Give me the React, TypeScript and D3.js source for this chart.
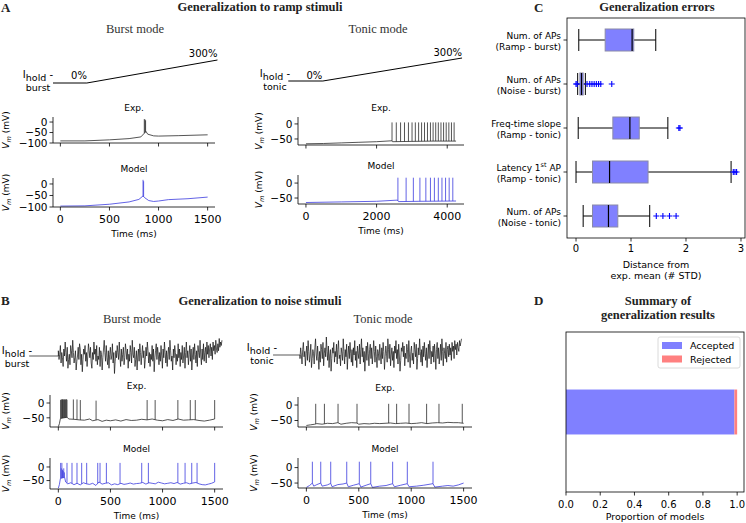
import React from 'react';
import * as d3 from 'd3';

const SANS = "'DejaVu Sans', sans-serif";
const SERIF = "'Liberation Serif', 'Times New Roman', serif";

// ---------- Panel A: ramp stimuli ----------
const rampBurstStim: [number, number][] = [[-75, 0], [270, 0], [1600, 300]];
const rampTonicStim: [number, number][] = [[-500, 0], [480, 0], [4420, 300]];

const rampBurstExpBase: [number, number][] = [
  [0, -90], [250, -90], [500, -85], [700, -79], [820, -71], [852, -55], [872, -45], [890, -58],
  [950, -66], [1000, -67], [1200, -65], [1500, -61],
];
const rampBurstExpSpikes: [number, number][] = [[855, 14], [862, 12], [868, 8]];

const rampBurstModelBase: [number, number][] = [
  [0, -96], [250, -95], [500, -88], [700, -78], [800, -67], [842, -52], [860, -60], [900, -72],
  [950, -76], [1000, -74], [1100, -68], [1300, -64], [1500, -57],
];
const rampBurstModelSpikes: [number, number][] = [[842, 18], [848, 12]];

const rampTonicExpBase: [number, number][] = [
  [0, -66], [500, -65], [1000, -63], [1500, -61], [2000, -59], [2430, -56], [2450, -59],
  [3000, -58], [3600, -57], [4250, -57],
];
const rampTonicExpSpikes = [
  2437, 2558, 2679, 2790, 2902, 3004, 3097, 3190, 3274, 3357, 3441, 3525, 3600, 3674, 3748,
  3823, 3897, 3971, 4046, 4120, 4195,
];
const rampTonicExpPeak = 5;

const rampTonicModelBase: [number, number][] = [
  [0, -65], [1000, -63], [2000, -61], [2590, -57], [2620, -62], [3200, -61], [4250, -60],
];
const rampTonicModelSpikes = [2604, 2836, 3041, 3227, 3395, 3525, 3637, 3748, 3851, 3953, 4055, 4158];
const rampTonicModelPeak = 18;

// ---------- Panel B: noise stimuli ----------
const noiseBurstStim = [
  0.3, -0.2, 0.1, 0.6, -0.4, 0.2, -0.1, -0.6, 0.4, 0.0, 0.8, 0.2, -0.3, 0.5, -0.7, -0.2, 0.1, -0.5, 0.6, 0.3,
  -0.1, 0.9, 0.2, -0.4, -0.1, 0.3, -0.8, -0.3, 0.0, 0.5, -0.2, 0.7, 0.4, -0.5, 0.1, -0.9, -0.2, 0.4, 0.1, 0.6,
  -0.3, 0.2, -0.6, 0.0, 0.7, 0.3, -0.1, 0.5, -0.4, -0.7, 0.2, -0.2, 0.8, 0.1, 0.4, -0.3, 0.6, -0.5, 0.0, -0.2,
  0.5, -0.6, 0.3, 0.1, -0.8, -0.1, 0.4, 0.9, 0.2, -0.3, 0.6, -0.1, -0.5, 0.3, -0.7, 0.1, 0.5, -0.2, 0.0, 0.7,
  -0.4, 0.2, -1.0, -0.3, 0.3, -0.1, 0.6, 0.2, -0.2, 0.8, 0.0, -0.6, 0.4, -0.3, 0.1, 0.5, -0.5, -0.1, 0.7, 0.3,
  -0.2, 0.4, -0.7, 0.1, -0.3, 0.6, 0.2, -0.4, 0.9, 0.1, -0.1, 0.5, -0.6, -0.2, 0.3, -0.8, 0.0, 0.4, -0.3, 0.7,
  0.2, -0.5, 0.1, 0.6, -0.1, 0.3, -0.7, -0.2, 0.5, 0.0, 0.8, 0.3, -0.4, 0.2, -0.6, 0.1, -0.2, 0.6, -0.3, 0.4,
  -0.9, -0.1, 0.3, 0.7, -0.2, 0.5, 0.1, -0.5, 0.2, -0.3, 0.6, 0.0, -0.7, 0.4, -0.1, 0.8, 0.2, -0.4, 0.3, -0.6,
  0.1, 0.5, -0.2, 0.9, 0.3, -0.3, 0.0, -0.8, 0.4, -0.1, 0.6, 0.2, -0.5, 0.1, -0.3, 0.7, -0.1, 0.4, -0.6, 0.2,
  -0.2, 0.6, -0.4, 0.0, 0.5, -0.7, 0.2, 0.8, -0.1, 0.3, -0.5, 0.1, 0.6, -0.3, 0.4, -0.8, 0.0, 0.5, -0.2, 0.7,
  0.1, -0.4, 0.3, -0.6, 0.6, 0.2, -0.1, 0.9, 0.0, -0.5, 0.4, -0.2, 0.7, -0.3, 0.2, 0.5, -0.4, 0.8, 0.1, 0.6,
  -0.1, 0.4, 0.7, 0.0, 0.5, -0.2, 0.8, 0.3, 0.6, 0.1, 0.9, 0.4, 0.2, 0.7, 0.3, 1.0, 0.5, 0.8, 0.6, 0.9,
];
const noiseTonicStim = [
  -0.2, 0.4, 0.0, -0.5, 0.3, 0.7, -0.1, 0.2, -0.6, 0.1, 0.5, -0.3, 0.8, 0.2, -0.4, 0.0, 0.6, -0.7, -0.2, 0.3,
  0.1, -0.5, 0.4, 0.9, 0.0, -0.3, 0.5, -0.1, -0.8, 0.2, -0.4, 0.6, 0.3, -0.2, 0.7, -0.6, 0.1, 0.4, -0.1, 1.0,
  0.2, -0.3, 0.5, -0.7, 0.0, 0.3, -0.9, -0.2, 0.4, 0.1, 0.7, -0.4, 0.2, -0.1, 0.6, -0.5, 0.3, 0.8, -0.2, 0.0,
  -0.6, 0.4, 0.1, -0.3, 0.9, 0.2, -0.5, 0.3, -0.1, 0.6, -0.8, 0.0, 0.5, -0.2, 0.7, 0.1, -0.4, 0.3, -0.6, 0.4,
  0.0, 0.8, -0.3, 0.2, -0.7, 0.5, 0.1, -0.2, 0.6, -0.5, 0.3, 0.9, -0.1, 0.4, -0.4, 0.2, -0.9, 0.0, 0.5, -0.3,
  0.7, 0.1, -0.6, 0.3, 0.6, -0.2, 0.4, -0.5, 0.0, 0.8, 0.2, -0.4, 0.5, -0.1, -0.7, 0.3, 0.1, -0.3, 0.6, 0.0,
  -0.5, 0.4, -0.2, 0.7, 0.2, -0.8, -0.1, 0.5, 0.1, -0.4, 0.9, 0.3, -0.2, 0.6, -0.6, 0.0, 0.4, -0.3, 0.2, -0.7,
  0.5, 0.1, 0.8, -0.2, 0.3, -0.5, 0.6, 0.0, -0.9, -0.3, 0.4, 0.2, 0.7, -0.1, 0.5, -0.6, 0.1, -0.2, 0.6, 0.3,
  -0.4, 0.8, 0.0, -0.7, 0.2, 0.5, -0.3, 0.1, -0.5, 0.7, 0.3, -0.1, 0.6, -0.8, -0.2, 0.4, 0.0, 0.9, 0.2, -0.4,
  0.3, -0.6, 0.5, -0.1, 0.7, 0.1, -0.3, 0.4, -0.7, 0.0, 0.6, -0.2, 0.8, 0.3, -0.5, 0.2, -0.1, 0.5, -0.4, 0.6,
  0.1, -0.8, 0.3, 0.7, -0.2, 0.4, -0.5, 0.0, 0.6, -0.3, 0.9, 0.2, -0.6, 0.4, 0.1, -0.2, 0.7, -0.4, 0.3, 0.5,
  -0.1, 0.6, 0.0, 0.4, -0.3, 0.7, 0.2, 0.5, -0.2, 0.8, 0.3, 0.6, 0.0, 0.7, 0.4, 0.2, 0.8, 0.5, 0.7, 0.9,
];

const noiseBurstExpBase: [number, number][] = [
  [0, -80], [10, -70], [20, -52], [85, -48], [100, -54], [150, -55], [200, -57], [250, -58], [300, -54],
  [330, -60], [380, -56], [420, -62], [460, -58], [500, -60], [550, -57], [600, -61], [650, -56],
  [700, -59], [750, -58], [800, -55], [850, -57], [900, -54], [950, -58], [1000, -60], [1050, -56],
  [1100, -59], [1150, -54], [1200, -58], [1250, -57], [1300, -56], [1350, -59], [1400, -61],
  [1450, -58], [1500, -54],
];
const noiseBurstExpSpikes: [number, number][] = [
  [22, 10], [28, 13], [34, 10], [40, 13], [46, 10], [52, 13], [58, 11], [64, 13], [70, 11], [77, 13],
  [83, 11], [144, 12], [179, 12], [211, 10], [362, 8], [852, 10], [929, 10], [1147, 10], [1266, 10],
  [1314, 10], [1500, 10],
];

const noiseBurstModelBase: [number, number][] = [
  [0, -78], [10, -65], [20, -42], [60, -38], [70, -55], [90, -62], [120, -58], [150, -65], [180, -60],
  [210, -66], [240, -58], [270, -62], [300, -64], [330, -60], [360, -68], [390, -55], [420, -63],
  [450, -60], [480, -58], [510, -66], [540, -62], [570, -65], [600, -60], [630, -64], [660, -62],
  [690, -59], [720, -63], [750, -61], [780, -60], [810, -57], [840, -63], [870, -58], [900, -60],
  [930, -62], [960, -56], [990, -59], [1020, -62], [1050, -60], [1080, -58], [1110, -61], [1140, -57],
  [1170, -63], [1200, -60], [1230, -58], [1260, -62], [1290, -59], [1320, -57], [1350, -62],
  [1380, -65], [1410, -66], [1440, -63], [1470, -60], [1500, -55],
];
const noiseBurstModelSpikes: [number, number][] = [
  [22, 15], [28, -5], [34, 15], [40, -10], [46, -15], [52, -5], [58, -20], [83, 15], [131, 15],
  [179, 15], [224, 15], [272, 15], [378, 15], [400, 15], [461, 15], [592, 15], [800, 15], [864, 15],
  [1147, 15], [1216, 15], [1280, 15], [1331, 15], [1500, 15],
];

const noiseTonicExpBase: [number, number][] = [
  [0, -66], [40, -64], [80, -62], [100, -60], [150, -62], [200, -59], [250, -60], [300, -57],
  [330, -62], [380, -59], [430, -57], [480, -58], [500, -62], [550, -60], [600, -61], [650, -59],
  [700, -60], [750, -59], [800, -58], [850, -60], [900, -59], [950, -58], [1000, -60], [1050, -59],
  [1100, -57], [1150, -60], [1200, -58], [1250, -57], [1300, -58], [1350, -56], [1400, -57],
  [1450, -57], [1500, -59],
];
const noiseTonicExpSpikes = [89, 172, 302, 483, 785, 861, 979, 1147, 1265, 1487];
const noiseTonicExpPeak = 4;

const noiseTonicModelBase: [number, number][] = [
  [0, -64], [30, -58], [57, -50], [70, -60], [100, -55], [137, -50], [150, -60], [200, -56], [232, -51],
  [245, -62], [300, -55], [350, -53], [385, -50], [400, -62], [450, -57], [505, -52], [520, -63],
  [570, -57], [614, -52], [630, -64], [700, -60], [760, -58], [823, -52], [840, -62], [900, -57],
  [963, -52], [980, -62], [1050, -60], [1120, -57], [1208, -52], [1225, -63], [1300, -60],
  [1350, -58], [1400, -60], [1450, -56], [1500, -50],
];
const noiseTonicModelSpikes = [57, 137, 232, 385, 505, 614, 823, 963, 1208];
const noiseTonicModelPeak = 19;

// ---------- Panel C: generalization errors ----------
const errorLabelTop = ['Num. of APs', 'Num. of APs', 'Freq-time slope', 'Latency 1', 'Num. of APs'];
const errorLabelBottom = ['(Ramp - burst)', '(Noise - burst)', '(Ramp - tonic)', '(Ramp - tonic)', '(Noise - tonic)'];
const whiskerLow = [0.05, 0.03, 0.04, 0.0, 0.13];
const quart1 = [0.53, 0.07, 0.67, 0.3, 0.3];
const medians = [1.02, 0.1, 0.98, 0.61, 0.59];
const quart3 = [1.05, 0.13, 1.15, 1.31, 0.76];
const whiskerHigh = [1.45, 0.17, 1.67, 2.82, 1.34];
const outliers = [
  [],
  [0.0, 0.02, 0.2, 0.25, 0.29, 0.33, 0.37, 0.41, 0.45, 0.65],
  [1.87, 1.89],
  [2.86, 2.89, 2.92],
  [1.46, 1.58, 1.7, 1.82],
];
const errorTicks = [0, 1, 2, 3];

// ---------- Panel D: summary ----------
const summaryNames = ['Accepted', 'Rejected'];
const summaryValues = [0.984, 0.016];
const summaryColors = ['#8080ff', '#ff8080'];
const summaryTicks = [0, 0.2, 0.4, 0.6, 0.8, 1.0];

// ---------- helpers ----------
const fmt = (v: number) => (v < 0 ? '\u2212' + Math.abs(v) : String(v));

function interp(base: [number, number][], t: number) {
  const i = d3.bisector((d: [number, number]) => d[0]).left(base, t);
  if (i <= 0) return base[0][1];
  if (i >= base.length) return base[base.length - 1][1];
  const a = base[i - 1], b = base[i];
  return a[1] + ((b[1] - a[1]) * (t - a[0])) / (b[0] - a[0]);
}

type TraceProps = {
  box: [number, number, number, number];
  xDomain: [number, number];
  yDomain: [number, number];
  xTicks: number[];
  yTicks: number[];
  xLabels?: boolean;
  base: [number, number][];
  spikes: [number, number][];
  color: string;
  title: string;
  ylabelX: number;
};

function TracePlot(p: TraceProps) {
  const [x0, x1, y0, y1] = p.box;
  const x = d3.scaleLinear().domain(p.xDomain).range([x0, x1]);
  const y = d3.scaleLinear().domain(p.yDomain).range([y0, y1]);
  const line = d3.line<[number, number]>().x(d => x(d[0])).y(d => y(d[1]));
  const spikePath = p.spikes
    .map(([t, pk]) => `M${x(t)},${y(interp(p.base, t))}L${x(t)},${y(pk)}`)
    .join('');
  const cx = (x0 + x1) / 2;
  const cy = (y0 + y1) / 2;
  return (
    <g>
      <path d={line(p.base) || ''} fill="none" stroke={p.color} strokeWidth={0.8} />
      <path d={spikePath} fill="none" stroke={p.color} strokeWidth={0.8} />
      <line x1={x0} x2={x0} y1={y0} y2={y1} stroke="#000" strokeWidth={0.8} />
      <line x1={x0} x2={x1} y1={y0} y2={y0} stroke="#000" strokeWidth={0.8} />
      {p.yTicks.map(v => (
        <g key={'y' + v}>
          <line x1={x0 - 3.5} x2={x0} y1={y(v)} y2={y(v)} stroke="#000" strokeWidth={0.8} />
          <text x={x0 - 5.5} y={y(v)} dy="0.36em" textAnchor="end" fontSize={10.5} fontFamily={SANS}>
            {fmt(v)}
          </text>
        </g>
      ))}
      {p.xTicks.map(v => (
        <g key={'x' + v}>
          <line x1={x(v)} x2={x(v)} y1={y0} y2={y0 + 3.5} stroke="#000" strokeWidth={0.8} />
          {p.xLabels && (
            <text x={x(v)} y={y0 + 16} textAnchor="middle" fontSize={11} fontFamily={SANS}>
              {v}
            </text>
          )}
        </g>
      ))}
      {p.xLabels && (
        <text x={cx} y={y0 + 30} textAnchor="middle" fontSize={9} fontFamily={SANS}>
          Time (ms)
        </text>
      )}
      <text x={cx} y={y1 - 6} textAnchor="middle" fontSize={9} fontFamily={SANS}>
        {p.title}
      </text>
      <text
        transform={`translate(${p.ylabelX},${cy}) rotate(-90)`}
        textAnchor="middle"
        fontSize={9}
        fontFamily={SANS}
      >
        <tspan fontStyle="italic">V</tspan>
        <tspan fontStyle="italic" fontSize={6.5} dy={2}>m</tspan>
        <tspan dy={-2}> (mV)</tspan>
      </text>
    </g>
  );
}

function HoldLabel({ x, y, mode }: { x: number; y: number; mode: string }) {
  return (
    <g fontFamily={SANS} fontSize={10} textAnchor="middle">
      <text x={x} y={y}>
        <tspan>I</tspan>
        <tspan dy={3} fontSize={9.5}>hold</tspan>
        <tspan dy={-3}> -</tspan>
      </text>
      <text x={x} y={y + 13} fontSize={9.5}>{mode}</text>
    </g>
  );
}

export default function App() {
  // stimulus scales
  const rbX = d3.scaleLinear().domain([-75, 1575]).range([53, 215]);
  const rbY = d3.scaleLinear().domain([0, 300]).range([83, 60]);
  const rtX = d3.scaleLinear().domain([-225, 4475]).range([298, 464]);
  const rtY = d3.scaleLinear().domain([0, 300]).range([81, 58]);
  const stimLineRB = d3.line<[number, number]>().x(d => rbX(d[0])).y(d => rbY(d[1]));
  const stimLineRT = d3.line<[number, number]>().x(d => rtX(d[0])).y(d => rtY(d[1]));

  const nbX = d3.scaleLinear().domain([-80, 1580]).range([50, 223]);
  const nbY = d3.scaleLinear().domain([-1, 1]).range([373.5, 338.5]);
  const ntX = d3.scaleLinear().domain([-80, 1580]).range([298, 472]);
  const ntY = d3.scaleLinear().domain([-1, 1]).range([373, 337]);
  const nbT = d3.scaleLinear().domain([0, noiseBurstStim.length - 1]).range([0, 1570]);
  const ntT = d3.scaleLinear().domain([0, noiseTonicStim.length - 1]).range([-61, 1480]);
  const noiseLineB =
    `M${nbX(-280)},${nbY(0)}L${nbX(0)},${nbY(0)}` +
    (d3.line<number>().x((_, i) => nbX(nbT(i))).y(d => nbY(d))(noiseBurstStim) || '').replace(/^M/, 'L');
  const noiseLineT =
    `M${ntX(-318)},${ntY(0)}L${ntX(-61)},${ntY(0)}` +
    (d3.line<number>().x((_, i) => ntX(ntT(i))).y(d => ntY(d))(noiseTonicStim) || '').replace(/^M/, 'L');

  // Panel C scales
  const cX = d3.scaleLinear().domain([-0.164, 3.073]).range([567, 745]);
  const cY = d3.scaleBand<number>().domain(d3.range(errorLabelTop.length)).range([18, 238]);
  const bh = cY.bandwidth() / 2;

  // Panel D scales
  const dX = d3.scaleLinear().domain([0, 1.04]).range([566, 744]);
  const dY = d3.scaleBand<string>().domain(['models']).range([332, 492]).paddingOuter(1.28);
  const stackStarts = summaryValues.map((_, i) => d3.sum(summaryValues.slice(0, i)));

  const EXP = '#2a2a2a';
  const MOD = '#3b3bde';

  return (
    <div style={{ position: 'absolute', left: 0, top: 0 }}>
      <svg width={746} height={523} style={{ display: 'block', background: '#fff' }}>
        {/* ===== Panel A ===== */}
        <text x={1} y={12} fontFamily={SERIF} fontWeight="bold" fontSize={13} fill="#222">A</text>
        <text x={260} y={11} textAnchor="middle" fontFamily={SERIF} fontWeight="bold" fontSize={12.5} fill="#222">
          Generalization to ramp stimuli
        </text>
        <text x={135} y={33} textAnchor="middle" fontFamily={SERIF} fontSize={12.5} fill="#333">Burst mode</text>
        <text x={378} y={33} textAnchor="middle" fontFamily={SERIF} fontSize={12.5} fill="#333">Tonic mode</text>

        <path d={stimLineRB(rampBurstStim) || ''} fill="none" stroke="#000" strokeWidth={1} />
        <text x={rbX(190)} y={79} textAnchor="middle" fontFamily={SANS} fontSize={10}>0%</text>
        <text x={rbX(1600)} y={57} textAnchor="end" fontFamily={SANS} fontSize={10}>300%</text>
        <HoldLabel x={38} y={78} mode="burst" />

        <path d={stimLineRT(rampTonicStim) || ''} fill="none" stroke="#000" strokeWidth={1} />
        <text x={rtX(240)} y={79} textAnchor="middle" fontFamily={SANS} fontSize={10}>0%</text>
        <text x={rtX(4420)} y={56} textAnchor="end" fontFamily={SANS} fontSize={10}>300%</text>
        <HoldLabel x={275} y={77} mode="tonic" />

        <TracePlot box={[53, 215, 143, 117]} xDomain={[-75, 1575]} yDomain={[-100, 24]}
          xTicks={[0, 500, 1000, 1500]} yTicks={[0, -50, -100]} base={rampBurstExpBase}
          spikes={rampBurstExpSpikes} color={EXP} title="Exp." ylabelX={9} />
        <TracePlot box={[53, 215, 207, 178]} xDomain={[-75, 1575]} yDomain={[-100, 26]}
          xTicks={[0, 500, 1000, 1500]} yTicks={[0, -50, -100]} xLabels base={rampBurstModelBase}
          spikes={rampBurstModelSpikes} color={MOD} title="Model" ylabelX={9} />
        <TracePlot box={[298, 464, 145, 117]} xDomain={[-225, 4475]} yDomain={[-70, 23]}
          xTicks={[0, 2000, 4000]} yTicks={[0, -50]} base={rampTonicExpBase}
          spikes={rampTonicExpSpikes.map(t => [t, rampTonicExpPeak] as [number, number])}
          color={EXP} title="Exp." ylabelX={262} />
        <TracePlot box={[298, 464, 204, 175]} xDomain={[-225, 4475]} yDomain={[-70, 27]}
          xTicks={[0, 2000, 4000]} yTicks={[0, -50]} xLabels base={rampTonicModelBase}
          spikes={rampTonicModelSpikes.map(t => [t, rampTonicModelPeak] as [number, number])}
          color={MOD} title="Model" ylabelX={262} />

        {/* ===== Panel B ===== */}
        <text x={1} y={305} fontFamily={SERIF} fontWeight="bold" fontSize={13} fill="#222">B</text>
        <text x={260} y={304.5} textAnchor="middle" fontFamily={SERIF} fontWeight="bold" fontSize={12.5} fill="#222">
          Generalization to noise stimuli
        </text>
        <text x={132} y={323} textAnchor="middle" fontFamily={SERIF} fontSize={12.5} fill="#333">Burst mode</text>
        <text x={383} y={323} textAnchor="middle" fontFamily={SERIF} fontSize={12.5} fill="#333">Tonic mode</text>

        <path d={noiseLineB} fill="none" stroke="#111" strokeWidth={0.7} strokeLinejoin="round" />
        <HoldLabel x={17} y={354} mode="burst" />
        <path d={noiseLineT} fill="none" stroke="#111" strokeWidth={0.7} strokeLinejoin="round" />
        <HoldLabel x={262} y={351} mode="tonic" />

        <TracePlot box={[50, 223, 427, 395]} xDomain={[-80, 1580]} yDomain={[-81, 27]}
          xTicks={[0, 500, 1000, 1500]} yTicks={[0, -50]} base={noiseBurstExpBase}
          spikes={noiseBurstExpSpikes} color={EXP} title="Exp." ylabelX={9} />
        <TracePlot box={[50, 223, 489, 458]} xDomain={[-80, 1580]} yDomain={[-81, 33]}
          xTicks={[0, 500, 1000, 1500]} yTicks={[0, -50]} xLabels base={noiseBurstModelBase}
          spikes={noiseBurstModelSpikes} color={MOD} title="Model" ylabelX={9} />
        <TracePlot box={[298, 472, 427, 397]} xDomain={[-80, 1580]} yDomain={[-71, 26]}
          xTicks={[0, 500, 1000, 1500]} yTicks={[0, -50]} base={noiseTonicExpBase}
          spikes={noiseTonicExpSpikes.map(t => [t, noiseTonicExpPeak] as [number, number])}
          color={EXP} title="Exp." ylabelX={257} />
        <TracePlot box={[298, 472, 488, 458]} xDomain={[-80, 1580]} yDomain={[-66, 31]}
          xTicks={[0, 500, 1000, 1500]} yTicks={[0, -50]} xLabels base={noiseTonicModelBase}
          spikes={noiseTonicModelSpikes.map(t => [t, noiseTonicModelPeak] as [number, number])}
          color={MOD} title="Model" ylabelX={257} />

        {/* ===== Panel C ===== */}
        <text x={534} y={12} fontFamily={SERIF} fontWeight="bold" fontSize={13} fill="#222">C</text>
        <text x={657} y={11} textAnchor="middle" fontFamily={SERIF} fontWeight="bold" fontSize={12.5} fill="#222">
          Generalization errors
        </text>
        {errorLabelTop.map((lab, i) => {
          const c = (cY(i) || 0) + cY.bandwidth() / 2;
          return (
            <g key={'c' + i}>
              <line x1={cX(whiskerLow[i])} x2={cX(quart1[i])} y1={c} y2={c} stroke="#000" strokeWidth={1} />
              <line x1={cX(quart3[i])} x2={cX(whiskerHigh[i])} y1={c} y2={c} stroke="#000" strokeWidth={1} />
              <line x1={cX(whiskerLow[i])} x2={cX(whiskerLow[i])} y1={c - bh / 2} y2={c + bh / 2} stroke="#000" strokeWidth={1} />
              <line x1={cX(whiskerHigh[i])} x2={cX(whiskerHigh[i])} y1={c - bh / 2} y2={c + bh / 2} stroke="#000" strokeWidth={1} />
              <rect x={cX(quart1[i])} y={c - bh / 2} width={cX(quart3[i]) - cX(quart1[i])} height={bh}
                fill="#8080ff" stroke="#8a8aa8" strokeWidth={1} />
              <line x1={cX(medians[i])} x2={cX(medians[i])} y1={c - bh / 2} y2={c + bh / 2} stroke="#000" strokeWidth={1.2} />
              {outliers[i].map((o, j) => (
                <path key={j} d={`M${cX(o) - 3},${c}h6M${cX(o)},${c - 3}v6`} stroke="#0000ff" strokeWidth={1.1} />
              ))}
              <line x1={563.5} x2={567} y1={c} y2={c} stroke="#000" strokeWidth={0.8} />
              <text x={561} y={c - 1.5} textAnchor="end" fontFamily={SANS} fontSize={9}>
                {lab}
                {i === 3 && (
                  <>
                    <tspan fontSize={6.5} dy={-3.5}>st</tspan>
                    <tspan dy={3.5}> AP</tspan>
                  </>
                )}
              </text>
              <text x={561} y={c + 10} textAnchor="end" fontFamily={SANS} fontSize={9}>
                {errorLabelBottom[i]}
              </text>
            </g>
          );
        })}
        <rect x={567} y={18} width={178} height={220} fill="none" stroke="#000" strokeWidth={0.8} />
        {errorTicks.map(v => (
          <g key={'ct' + v}>
            <line x1={cX(v)} x2={cX(v)} y1={238} y2={241.5} stroke="#000" strokeWidth={0.8} />
            <text x={cX(v)} y={251.5} textAnchor="middle" fontFamily={SANS} fontSize={10}>{v}</text>
          </g>
        ))}
        <text x={656} y={267.5} textAnchor="middle" fontFamily={SANS} fontSize={9.5}>Distance from</text>
        <text x={656} y={278.5} textAnchor="middle" fontFamily={SANS} fontSize={9.5}>exp. mean (# STD)</text>

        {/* ===== Panel D ===== */}
        <text x={534} y={305} fontFamily={SERIF} fontWeight="bold" fontSize={13} fill="#222">D</text>
        <text x={658} y={305} textAnchor="middle" fontFamily={SERIF} fontWeight="bold" fontSize={12.5} fill="#222">
          Summary of
        </text>
        <text x={658} y={318.5} textAnchor="middle" fontFamily={SERIF} fontWeight="bold" fontSize={12.5} fill="#222">
          generalization results
        </text>
        {summaryValues.map((v, i) => (
          <rect key={'d' + i} x={dX(stackStarts[i])} y={dY('models')} width={dX(stackStarts[i] + v) - dX(stackStarts[i])}
            height={dY.bandwidth()} fill={summaryColors[i]} />
        ))}
        <rect x={566} y={332} width={178} height={160} fill="none" stroke="#000" strokeWidth={0.8} />
        {summaryTicks.map(v => (
          <g key={'dt' + v}>
            <line x1={dX(v)} x2={dX(v)} y1={492} y2={495.5} stroke="#000" strokeWidth={0.8} />
            <text x={dX(v)} y={507.5} textAnchor="middle" fontFamily={SANS} fontSize={10}>{v.toFixed(1)}</text>
          </g>
        ))}
        <text x={655} y={520} textAnchor="middle" fontFamily={SANS} fontSize={9.5}>Proportion of models</text>
        <rect x={658} y={337} width={82} height={31} rx={2} fill="#fff" fillOpacity={0.85} stroke="#d0d0d0" strokeWidth={0.8} />
        {summaryNames.map((n, i) => (
          <g key={'l' + i}>
            <rect x={662} y={342 + i * 13.5} width={20} height={7} fill={summaryColors[i]} />
            <text x={690} y={349 + i * 13.5} fontFamily={SANS} fontSize={9.5}>{n}</text>
          </g>
        ))}
      </svg>
    </div>
  );
}
